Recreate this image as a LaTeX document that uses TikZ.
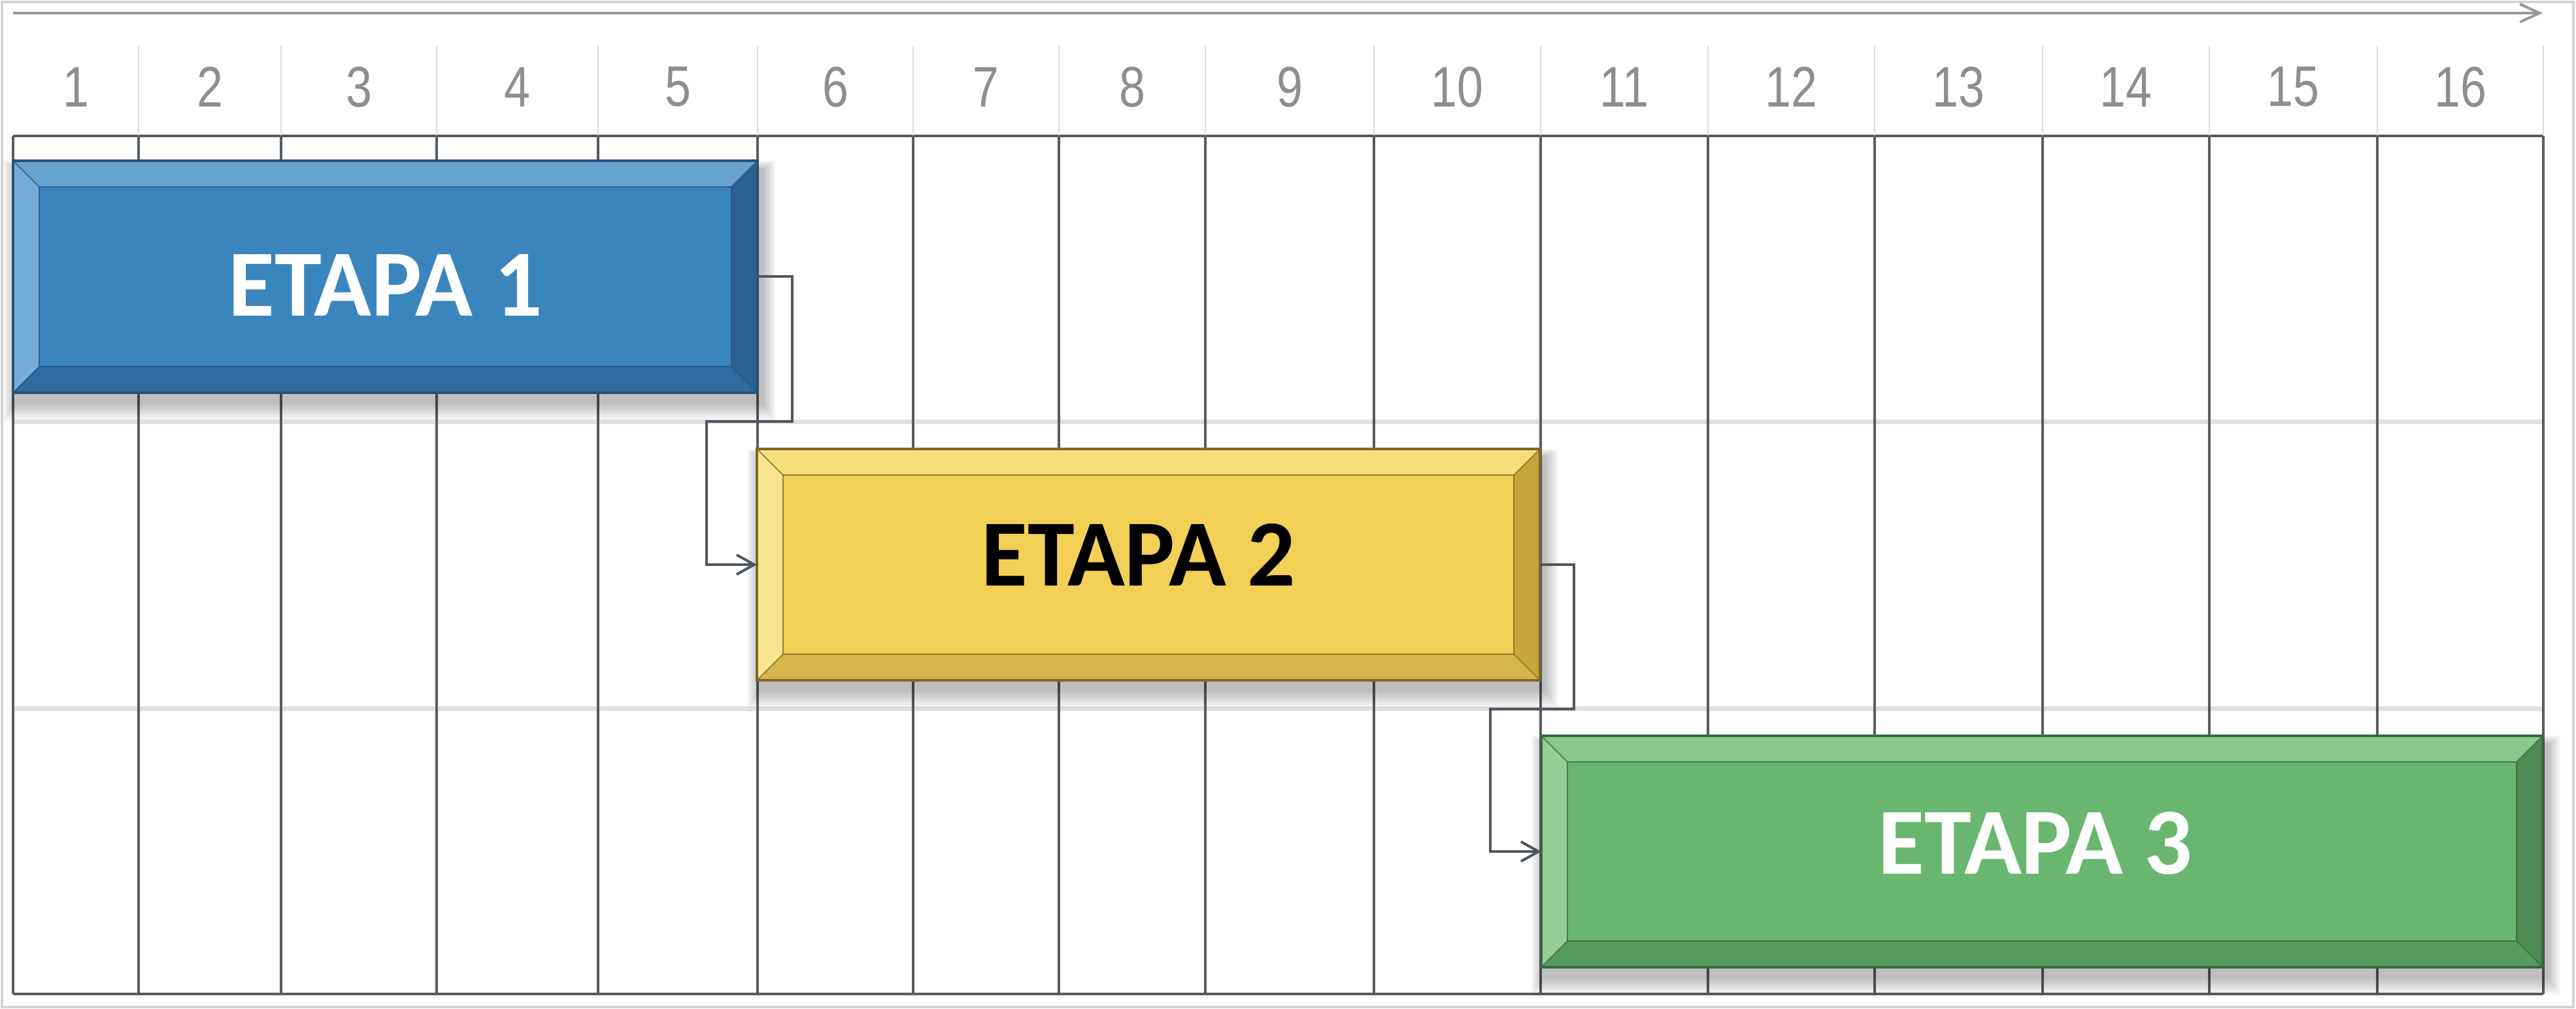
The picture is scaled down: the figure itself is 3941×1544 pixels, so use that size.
\documentclass[tikz,border=0pt]{standalone}
\usepackage{fontspec}
\usepackage{graphicx}
\setmainfont{Liberation Sans}
\newfontfamily\etapafont{Carlito}
\usetikzlibrary{arrows.meta,calc}

\definecolor{framec}{RGB}{212,212,212}
\definecolor{axisc}{RGB}{150,152,156}
\definecolor{numc}{RGB}{140,142,144}
\definecolor{hsepc}{RGB}{220,220,220}
\definecolor{gridc}{RGB}{88,92,98}
\definecolor{bandc}{RGB}{222,224,226}
\definecolor{connc}{RGB}{80,85,94}
% blue
\definecolor{bAface}{RGB}{58,133,190}
\definecolor{bAtop}{RGB}{104,162,206}
\definecolor{bAleft}{RGB}{116,172,216}
\definecolor{bAbot}{RGB}{48,108,158}
\definecolor{bAright}{RGB}{44,98,145}
\definecolor{bAedge}{RGB}{38,82,120}
% yellow
\definecolor{bBface}{RGB}{242,208,86}
\definecolor{bBtop}{RGB}{246,221,122}
\definecolor{bBleft}{RGB}{248,228,142}
\definecolor{bBbot}{RGB}{214,182,74}
\definecolor{bBright}{RGB}{198,166,60}
\definecolor{bBedge}{RGB}{125,104,42}
% green
\definecolor{bCface}{RGB}{104,182,112}
\definecolor{bCtop}{RGB}{138,200,142}
\definecolor{bCleft}{RGB}{148,206,150}
\definecolor{bCbot}{RGB}{86,155,92}
\definecolor{bCright}{RGB}{78,138,84}
\definecolor{bCedge}{RGB}{58,104,64}

\tikzset{
  frameline/.style={draw=framec, line width=0.8pt},
  axisarrow/.style={draw=axisc, line width=0.8pt, -{Straight Barb[length=6pt,width=5.5pt]}},
  numlabel/.style={text=numc, font=\fontsize{17.5}{17.5}\selectfont, inner sep=0pt},
  headsep/.style={draw=hsepc, line width=0.4pt},
  gridline/.style={draw=gridc, line width=0.65pt},
  bandline/.style={draw=bandc, line width=1.4pt},
  etapa/.style={rectangle, inner sep=0pt, outer sep=0pt, font=\etapafont\bfseries\fontsize{29}{30}\selectfont},
  conn/.style={draw=connc, line width=0.8pt, -{Straight Barb[length=5.4pt,width=6pt]}},
}

\newcommand\etapashadow[4]{%
  \foreach \k in {1,...,7}{%
    \fill[black, opacity=0.04] ({#1-3*\k+6},{#2-2*\k+14}) rectangle ({#3+3*\k+6},{#4+4*\k+14});
  }%
}
\newcommand\etapabevel[6]{%
  \fill[#2] (#1.north west) -- (#1.north east) -- ([shift={(-40,40)}]#1.north east) -- ([shift={(40,40)}]#1.north west) -- cycle;
  \fill[#3] (#1.north west) -- ([shift={(40,40)}]#1.north west) -- ([shift={(40,-40)}]#1.south west) -- (#1.south west) -- cycle;
  \fill[#4] (#1.south west) -- ([shift={(40,-40)}]#1.south west) -- ([shift={(-40,-40)}]#1.south east) -- (#1.south east) -- cycle;
  \fill[#5] (#1.south east) -- ([shift={(-40,-40)}]#1.south east) -- ([shift={(-40,40)}]#1.north east) -- (#1.north east) -- cycle;
  \draw[#6, line width=0.45pt, opacity=0.8] ([shift={(40,40)}]#1.north west) rectangle ([shift={(-40,-40)}]#1.south east);
  \draw[#6, line width=0.4pt, opacity=0.7] (#1.north west) -- ([shift={(40,40)}]#1.north west)
     (#1.north east) -- ([shift={(-40,40)}]#1.north east)
     (#1.south west) -- ([shift={(40,-40)}]#1.south west)
     (#1.south east) -- ([shift={(-40,-40)}]#1.south east);
  \draw[#6, line width=0.8pt] (#1.north west) rectangle (#1.south east);
}

\begin{document}
\begin{tikzpicture}[x=0.2pt,y=-0.2pt]
\useasboundingbox (0,0) rectangle (3941,1544);
\fill[white] (0,0) rectangle (3941,1544);
\draw[frameline] (3,3) rectangle (3937,1541);

% faint row bands
\draw[bandline] (20,645) -- (3891,645);
\draw[bandline] (20,1084) -- (3891,1084);

% grid
\foreach \x in {20,212,430,668,915,1159,1397,1620,1844,2102,2357,2613,2868,3125,3380,3637,3891}
  \draw[gridline] (\x,208) -- (\x,1521);
\draw[gridline] (20,208) -- (3891,208);
\draw[gridline] (20,1521) -- (3891,1521);

% header separators
\foreach \x in {212,430,668,915,1159,1397,1620,1844,2102,2357,2613,2868,3125,3380,3637,3891}
  \draw[headsep] (\x,70) -- (\x,207);

% header numbers
\foreach \a/\b [count=\i] in {20/212,212/430,430/668,668/915,915/1159,1159/1397,1397/1620,1620/1844,1844/2102,2102/2357,2357/2613,2613/2868,2868/3125,3125/3380,3380/3637,3637/3891}
  \node[numlabel] (n\i) at ({(\a+\b)/2},133) {\scalebox{0.82}[1]{\i}};

% time axis
\coordinate (axisL) at (20,20);
\coordinate (axisR) at (3890,20);
\draw[axisarrow] (axisL) -- (axisR);

% ETAPA 1  (20,246)-(1159,601)
\etapashadow{20}{246}{1159}{601}
\node[etapa, minimum width=227.8pt, minimum height=71pt, fill=bAface] (e1) at (589.5,423.5) {};
\etapabevel{e1}{bAtop}{bAleft}{bAbot}{bAright}{bAedge}
\node[etapa, text=white] (t1) at ([yshift=-2.5pt]e1.center) {ETAPA 1};

% ETAPA 2  (1158,687)-(2356,1041)
\etapashadow{1158}{687}{2356}{1041}
\node[etapa, minimum width=239.6pt, minimum height=70.8pt, fill=bBface] (e2) at (1757,864) {};
\etapabevel{e2}{bBtop}{bBleft}{bBbot}{bBright}{bBedge}
\node[etapa, text=black] (t2) at ([xshift=-3pt,yshift=3pt]e2.center) {ETAPA 2};

% ETAPA 3  (2358,1126)-(3890,1480)
\etapashadow{2358}{1126}{3890}{1480}
\node[etapa, minimum width=306.4pt, minimum height=70.8pt, fill=bCface] (e3) at (3124,1303) {};
\etapabevel{e3}{bCtop}{bCleft}{bCbot}{bCright}{bCedge}
\node[etapa, text=white] (t3) at ([xshift=-2pt,yshift=2.5pt]e3.center) {ETAPA 3};

% connectors
\coordinate (k1) at (1212,645);
\coordinate (k2) at (1081,645);
\coordinate (k3) at (2408,1085);
\coordinate (k4) at (2280,1085);
\draw[conn] (e1.east) -| (k1) -- (k2) |- (e2.west);
\draw[conn] (e2.east) -| (k3) -- (k4) |- (e3.west);
\end{tikzpicture}
\end{document}
